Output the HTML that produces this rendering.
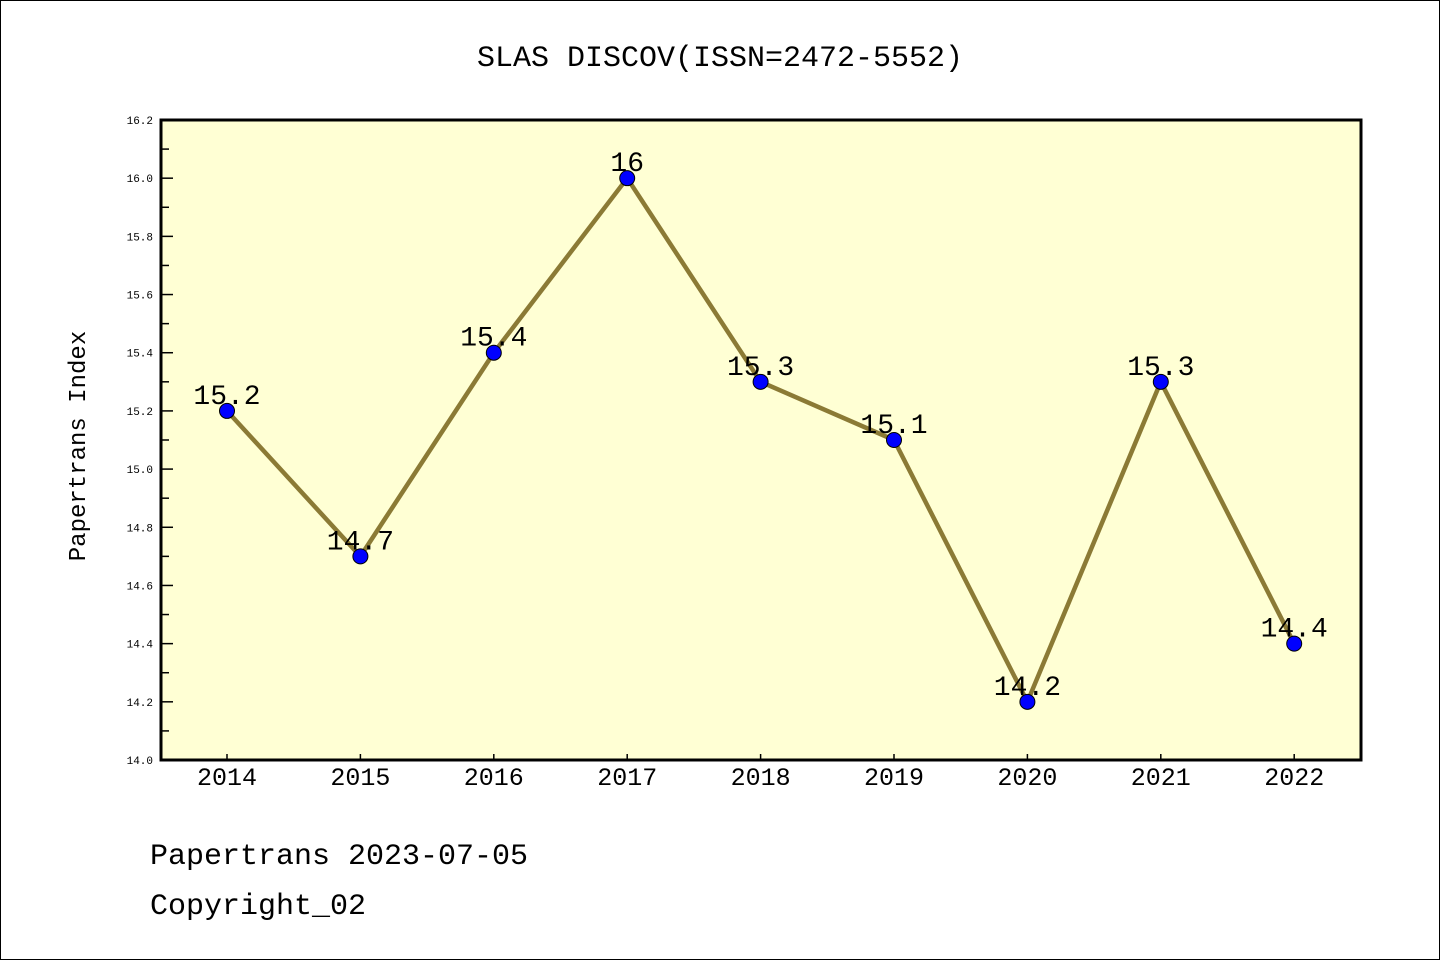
<!DOCTYPE html>
<html><head><meta charset="utf-8"><style>
html,body{margin:0;padding:0;background:#fff}
svg{display:block}
text{font-family:"Liberation Mono","DejaVu Sans Mono",monospace}
</style></head><body>
<svg id="chart" width="1440" height="960" xmlns="http://www.w3.org/2000/svg">
<rect x="0.5" y="0.5" width="1439" height="959" fill="#fff" stroke="#000" stroke-width="1"/>
<text x="720" y="66" text-anchor="middle" font-size="30">SLAS DISCOV(ISSN=2472-5552)</text>
<rect x="161" y="120" width="1200" height="640" fill="#ffffd4"/>
<g id="ticks"></g>
<g id="series"></g>
<rect x="161" y="120" width="1200" height="640" fill="none" stroke="#000" stroke-width="3"/>
<text transform="translate(85,446) rotate(-90)" text-anchor="middle" font-size="24">Papertrans Index</text>
<text x="150" y="864" font-size="30">Papertrans 2023-07-05</text>
<text x="150" y="914" font-size="30">Copyright_02</text>
</svg>
<script>
const years = ["2014","2015","2016","2017","2018","2019","2020","2021","2022"];
const values = [15.2,14.7,15.4,16,15.3,15.1,14.2,15.3,14.4];
const valueLabels = ["15.2","14.7","15.4","16","15.3","15.1","14.2","15.3","14.4"];
const yTicks = ["14.0","14.2","14.4","14.6","14.8","15.0","15.2","15.4","15.6","15.8","16.0","16.2"];
const yMin=14.0, yMax=16.2;
const NS="http://www.w3.org/2000/svg";
function yScale(v){return 760-(v-yMin)/(yMax-yMin)*640;}
function xScale(i){return 227+i*133.4;}
function mk(tag,attrs,parent){const e=document.createElementNS(NS,tag);for(const k in attrs)e.setAttribute(k,attrs[k]);parent.appendChild(e);return e;}
const tg=document.getElementById('ticks');
yTicks.forEach((t,i)=>{
  const v=parseFloat(t),y=yScale(v);
  const l=mk('line',{x1:161,x2:173,y1:y,y2:y,stroke:'#000','stroke-width':1.5},tg);
  
  
  const tx=mk('text',{x:153,y:y+4,'text-anchor':'end','font-size':11,'font-family':'DejaVu Sans, sans-serif'},tg);
  tx.textContent=t;
  
  
  if(i<yTicks.length-1){
    const ym=yScale(v+0.1);
    const m=mk('line',{x1:161,x2:169,y1:ym,y2:ym,stroke:'#000','stroke-width':1.5},tg);
    
    
  }
});
years.forEach((yr,i)=>{
  const x=xScale(i);
  const l=mk('line',{x1:x,x2:x,y1:760,y2:754,stroke:'#000','stroke-width':1.5},tg);
  
  
  const tx=mk('text',{x:x,y:785,'text-anchor':'middle','font-size':25,'font-family':'Liberation Sans, sans-serif'},tg);
  tx.textContent=yr;
  
  
});
const sg=document.getElementById('series');
const pts=values.map((v,i)=>xScale(i)+','+yScale(v)).join(' ');
const pl=mk('polyline',{points:pts,fill:'none',stroke:'#8b7a35','stroke-width':4.5,'stroke-linejoin':'round'},sg);


values.forEach((v,i)=>{
  const c=mk('circle',{cx:xScale(i),cy:yScale(v),r:7.5,fill:'#0000ff',stroke:'#000','stroke-width':1},sg);
  
  
  const t=mk('text',{x:xScale(i),y:yScale(v)-7,'text-anchor':'middle','font-size':28},sg);
  t.textContent=valueLabels[i];
  
  
});
</script>
</body></html>
